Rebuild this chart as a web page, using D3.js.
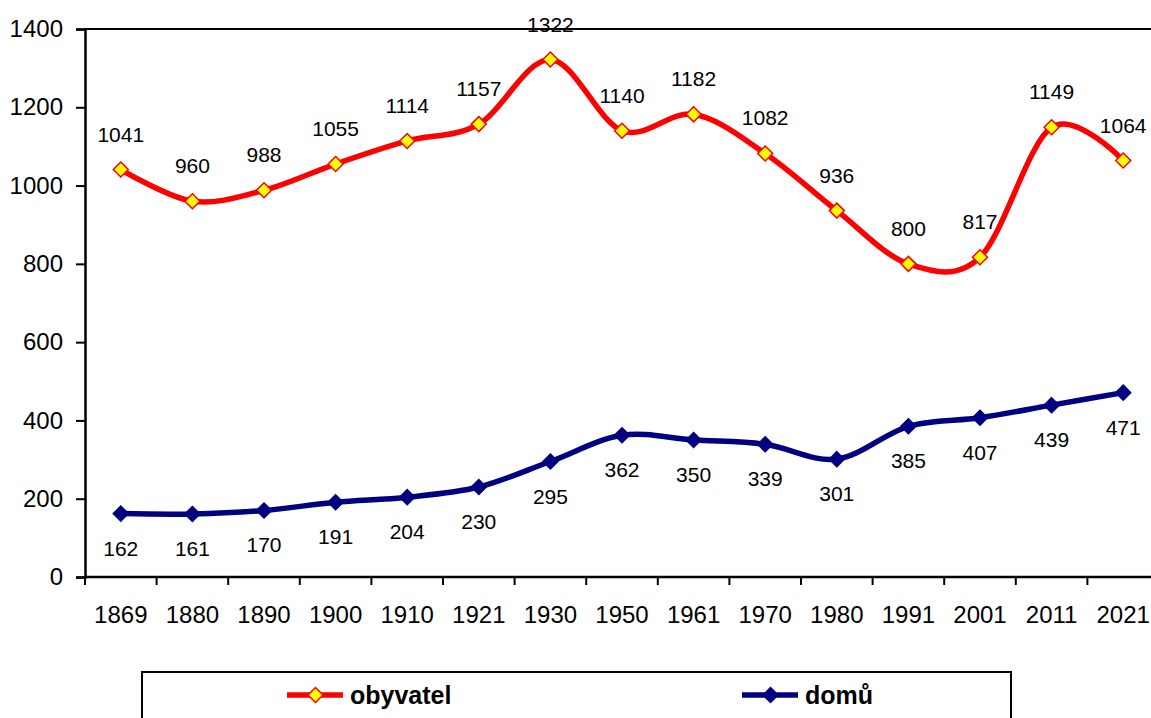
<!DOCTYPE html>
<html>
<head>
<meta charset="utf-8">
<script src="https://cdn.jsdelivr.net/npm/d3@7"></script>
<style>
  html, body { margin: 0; padding: 0; background: #fff; }
  svg { display: block; font-family: "Liberation Sans", Arial, sans-serif; }
</style>
</head>
<body>
<svg id="chart" width="1151" height="718"></svg>
<script>
const years = ["1869","1880","1890","1900","1910","1921","1930","1950","1961","1970","1980","1991","2001","2011","2021"];
const obyvatel = [1041, 960, 988, 1055, 1114, 1157, 1322, 1140, 1182, 1082, 936, 800, 817, 1149, 1064];
const domu = [162, 161, 170, 191, 204, 230, 295, 362, 350, 339, 301, 385, 407, 439, 471];
const yTicks = [0, 200, 400, 600, 800, 1000, 1200, 1400];
const seriesNames = ["obyvatel", "domů"];

const svg = d3.select("#chart");
const plotLeft = 85, plotTop = 29, plotBottom = 577, bandW = 71.6;
const plotRight = plotLeft + years.length * bandW;

const x = d3.scaleBand().domain(years).range([plotLeft, plotRight]).paddingInner(0).paddingOuter(0);
const cx = d => x(d) + x.bandwidth() / 2;
const y = d3.scaleLinear().domain([0, 1400]).range([plotBottom, plotTop]);

// top border of plot area
svg.append("line").attr("x1", plotLeft).attr("x2", 1151).attr("y1", y(1400)).attr("y2", y(1400))
  .attr("stroke", "#000").attr("stroke-width", 2);

// y axis
const yAxis = svg.append("g").attr("transform", `translate(${plotLeft},0)`)
  .call(d3.axisLeft(y).tickValues(yTicks).tickSize(9).tickPadding(13).tickFormat(d3.format("d")));
yAxis.select(".domain").attr("stroke", "#000").attr("stroke-width", 2.5);
yAxis.selectAll(".tick line").attr("stroke", "#000").attr("stroke-width", 2);
yAxis.selectAll(".tick text").attr("font-size", 24).attr("fill", "#000")
  .attr("font-family", "'Liberation Sans', Arial, sans-serif");

// x axis
const xAxis = svg.append("g").attr("transform", `translate(0,${plotBottom})`)
  .call(d3.axisBottom(x).tickSize(0));
xAxis.select(".domain").remove();
xAxis.selectAll(".tick text").attr("font-size", 24).attr("fill", "#000")
  .attr("y", 38).attr("dy", "0.35em")
  .attr("font-family", "'Liberation Sans', Arial, sans-serif");
svg.append("line").attr("x1", plotLeft).attr("x2", 1151).attr("y1", plotBottom).attr("y2", plotBottom)
  .attr("stroke", "#000").attr("stroke-width", 2.5);
const bounds = years.map(d => x(d)).concat([x.range()[1]]);
svg.append("g").selectAll("line").data(bounds).join("line")
  .attr("x1", d => d).attr("x2", d => d).attr("y1", plotBottom).attr("y2", plotBottom + 8)
  .attr("stroke", "#000").attr("stroke-width", 2);

const line = d3.line().x(d => cx(d.year)).y(d => y(d.v)).curve(d3.curveCardinal.tension(0));
const diamond = (s) => `M0,${-s}L${s},0L0,${s}L${-s},0Z`;

function drawSeries(vals, color, fill, markStroke, labelDy) {
  const data = years.map((yr, i) => ({year: yr, v: vals[i]}));
  svg.append("path").datum(data).attr("d", line)
    .attr("fill", "none").attr("stroke", color).attr("stroke-width", 5.5)
    .attr("stroke-linejoin", "round").attr("stroke-linecap", "round");
  svg.append("g").selectAll("path").data(data).join("path")
    .attr("transform", d => `translate(${cx(d.year)},${y(d.v)})`)
    .attr("d", diamond(7.5)).attr("fill", fill).attr("stroke", markStroke).attr("stroke-width", 1.5);
  svg.append("g").selectAll("text").data(data).join("text")
    .attr("x", d => cx(d.year)).attr("y", d => y(d.v) + labelDy)
    .attr("text-anchor", "middle").attr("font-size", 21).attr("fill", "#000")
    .text(d => d.v);
}
drawSeries(obyvatel, "#ff0000", "#ffff00", "#ff0000", -28);
drawSeries(domu, "#000080", "#000080", "#000080", 42);

// legend
svg.append("rect").attr("x", 142).attr("y", 672).attr("width", 869).attr("height", 80)
  .attr("fill", "#fff").attr("stroke", "#000").attr("stroke-width", 2);
const legendItems = [
  {name: seriesNames[0], color: "#ff0000", fill: "#ffff00", x0: 287},
  {name: seriesNames[1], color: "#000080", fill: "#000080", x0: 742}
];
const lg = svg.append("g").selectAll("g").data(legendItems).join("g")
  .attr("transform", d => `translate(${d.x0},695)`);
lg.append("line").attr("x1", 0).attr("x2", 56).attr("y1", 0).attr("y2", 0)
  .attr("stroke", d => d.color).attr("stroke-width", 5.5);
lg.append("path").attr("transform", "translate(28.5,0)").attr("d", diamond(7.5))
  .attr("fill", d => d.fill).attr("stroke", d => d.color).attr("stroke-width", 1.5);
lg.append("text").attr("x", 63).attr("y", 0).attr("dy", "0.37em")
  .attr("font-size", 25).attr("font-weight", "bold").attr("fill", "#000")
  .text(d => d.name);
</script>
</body>
</html>
